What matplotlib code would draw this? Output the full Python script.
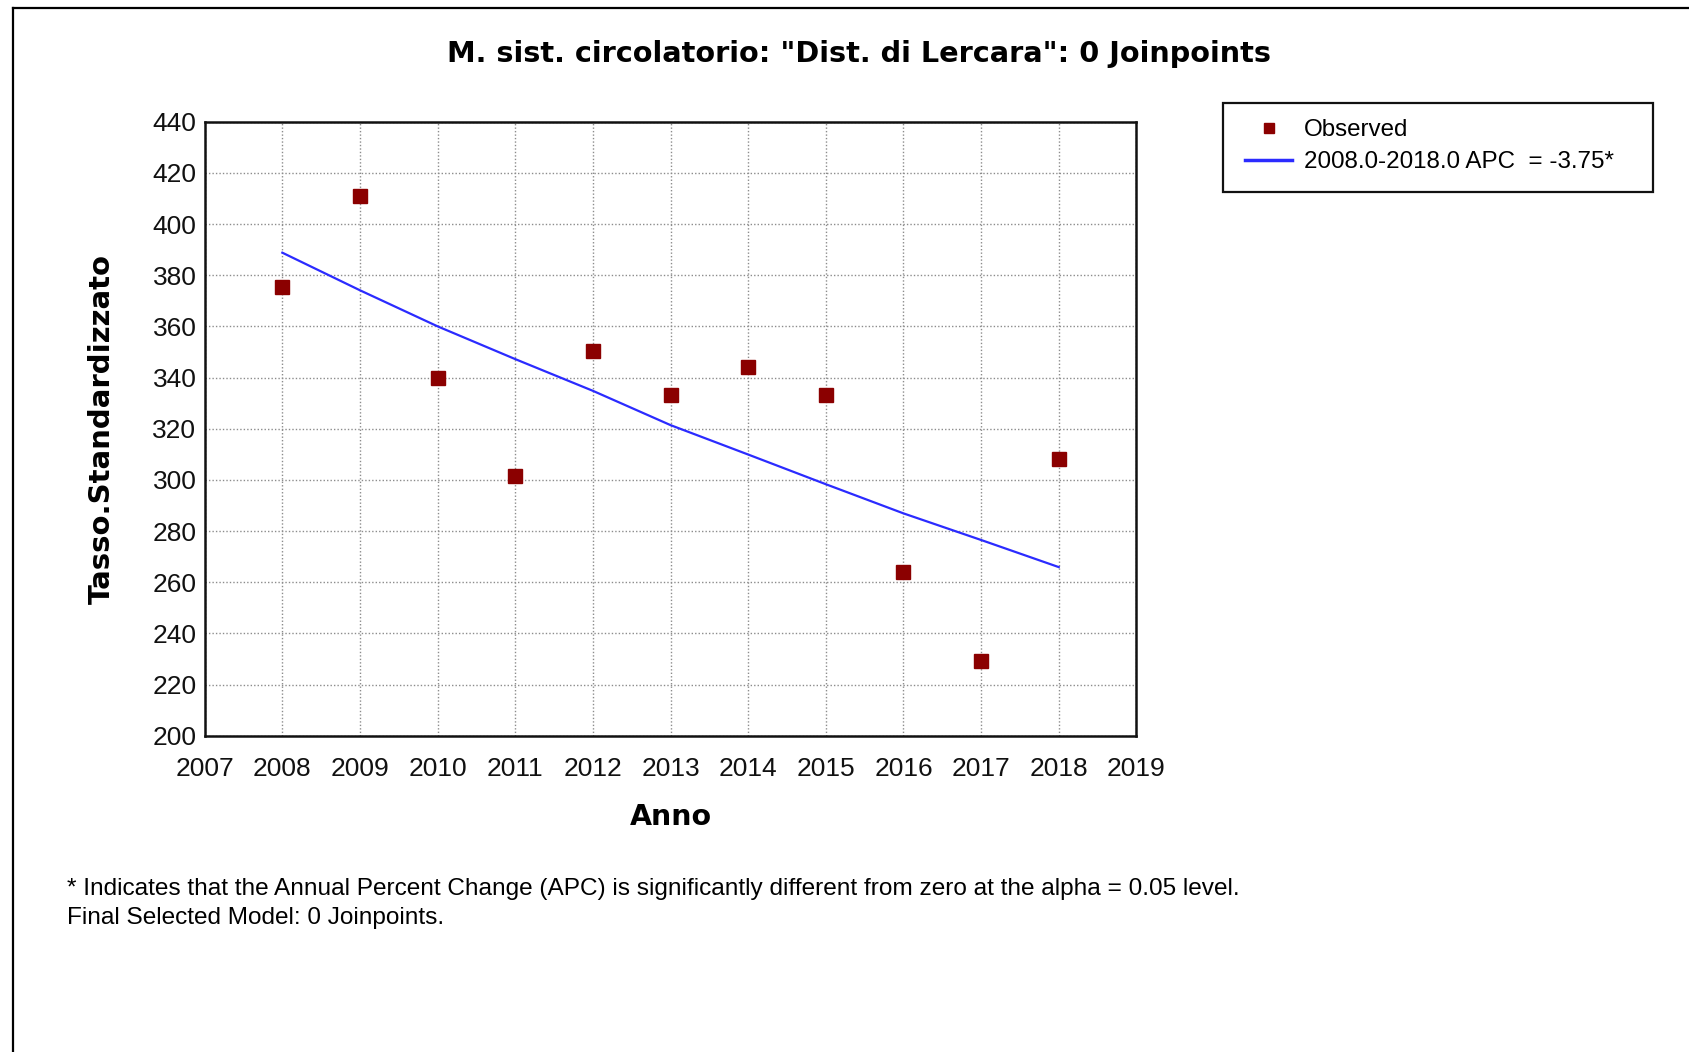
import matplotlib
matplotlib.use('Agg')
import matplotlib.pyplot as plt
from matplotlib.lines import Line2D
from matplotlib.patches import Rectangle

# ================= DATA =================
years = [2008, 2009, 2010, 2011, 2012, 2013, 2014, 2015, 2016, 2017, 2018]
observed = [375.2, 410.8, 339.9, 301.6, 350.4, 333.2, 344.0, 333.2, 264.1, 229.1, 308.0]
fitted = [388.8, 374.1, 360.0, 347.2, 334.8, 321.4, 309.9, 298.3, 286.9, 276.5, 265.9]

x_ticks = list(range(2007, 2020))
y_ticks = list(range(200, 441, 20))

title = 'M. sist. circolatorio: "Dist. di Lercara": 0 Joinpoints'
x_label = 'Anno'
y_label = 'Tasso.Standardizzato'
obs_label = 'Observed'
fit_label = '2008.0-2018.0 APC  = -3.75*'
footnote_1 = '* Indicates that the Annual Percent Change (APC) is significantly different from zero at the alpha = 0.05 level.'
footnote_2 = 'Final Selected Model: 0 Joinpoints.'

# ================= STYLE =================
obs_color = '#8b0000'
fit_color = '#2b2bff'
tick_font = 'Liberation Sans'
bold_font = 'DejaVu Sans'
W, H = 1689, 1052

fig = plt.figure(figsize=(W / 100, H / 100), dpi=100)
ax = fig.add_axes([204.7 / W, 1 - 735.7 / H, 931.7 / W, 614.0 / H])

ax.plot(years, fitted, color=fit_color, linewidth=1.6, zorder=3)
ax.plot(years, observed, linestyle='none', marker='s', markersize=9.5,
        color=obs_color, markeredgecolor=obs_color, zorder=4)

ax.set_xlim(2007, 2019)
ax.set_ylim(200, 440)
ax.set_xticks(x_ticks)
ax.set_yticks(y_ticks)
ax.grid(True, color='#8c8c8c', linestyle=(0, (1, 1.5)), linewidth=1.0)
ax.set_axisbelow(True)
for s in ax.spines.values():
    s.set_linewidth(1.8)
    s.set_color('#111111')

ax.tick_params(axis='both', length=0, labelsize=19, colors='#111111')
ax.tick_params(axis='x', pad=15)
ax.tick_params(axis='y', pad=6)
for lab in ax.get_xticklabels() + ax.get_yticklabels():
    lab.set_fontfamily(tick_font)

ax.set_xlabel(x_label, fontsize=20.5, fontweight='bold', family=bold_font)
ax.xaxis.set_label_coords(0.5, -0.110)
ax.set_ylabel(y_label, fontsize=21, fontweight='bold', family=bold_font)
ax.yaxis.set_label_coords(-0.095, 0.5)

fig.text(859 / W, 1 - 54 / H, title, ha='center', va='center',
         fontsize=20.7, fontweight='bold', family=bold_font)

# Legend (box drawn separately to match the wide frame)
handles = [Line2D([0], [0], linestyle='none', marker='s', markersize=7,
                  color=obs_color),
           Line2D([0], [0], color=fit_color, linewidth=2.5)]
fig.legend(handles, [obs_label, fit_label], loc='upper left',
           bbox_to_anchor=(1245 / W, 1 - 119 / H), frameon=False,
           borderpad=0, borderaxespad=0, handlelength=1.95,
           handletextpad=0.5, labelspacing=0.42,
           prop={'family': tick_font, 'size': 17.4})
fig.add_artist(Rectangle((1222.7 / W, 1 - 191.7 / H), 430.6 / W, 88.4 / H,
                         transform=fig.transFigure, fill=False,
                         edgecolor='#111111', linewidth=1.6))

fig.text(67 / W, 1 - 888.7 / H, footnote_1, ha='left', va='center',
         fontsize=17.6, family=tick_font)
fig.text(67 / W, 1 - 917.8 / H, footnote_2, ha='left', va='center',
         fontsize=17.6, family=tick_font)

# outer frame (top and left edges)
fig.add_artist(Line2D([12.7 / W, 1.0], [1 - 7.5 / H, 1 - 7.5 / H],
                      transform=fig.transFigure, color='black', linewidth=1.6))
fig.add_artist(Line2D([12.7 / W, 12.7 / W], [0.0, 1 - 7.5 / H],
                      transform=fig.transFigure, color='black', linewidth=1.6))

fig.savefig('out.png', dpi=100)
